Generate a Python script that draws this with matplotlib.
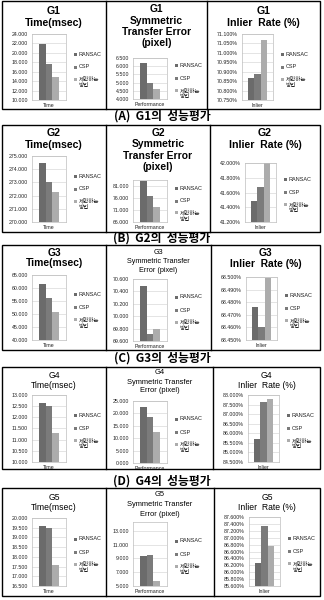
import numpy as np
import matplotlib
matplotlib.use('Agg')
import matplotlib.pyplot as plt
from matplotlib.patches import Rectangle
from matplotlib.lines import Line2D

plt.rcParams['font.family'] = ['Liberation Sans', 'Noto Sans CJK KR']

W, H = 324, 600

# 데이터
methods = ['RANSAC', 'CSP', '제안하는\n방법']
colors = ['#6b6b6b', '#7b7b7b', '#acacac']
groups = ['G1', 'G2', 'G3', 'G4', 'G5']
captions = ['(A)  G1의  성능평가', '(B)  G2의  성능평가', '(C)  G3의  성능평가', '(D)  G4의  성능평가']
cat_labels = ['Time', 'Performance', 'Inlier']

time_vals = [[21.9, 17.6, 14.8], [274.45, 273.0, 272.25], [61.5, 56.0, 50.6],
             [12.65, 12.49, 11.3], [19.57, 19.48, 17.58]]
ste_vals = [[6.2, 5.0, 4.6], [83.0, 77.0, 72.3], [70.48, 69.71, 69.80],
            [22.4, 18.6, 12.4], [9.4, 9.5, 5.7]]
inlier_vals = [[70.868, 70.889, 71.07], [41.48, 41.68, 42.0], [68.476, 68.460, 68.499],
               [85.72, 87.64, 87.78], [86.27, 87.34, 86.76]]

# (low, high, step) of tick labels, then top of axis
time_ticks = [(10, 24, 2), (270, 275, 1), (40, 65, 5), (10, 13, 0.5), (16.5, 20, 0.5)]
ste_ticks = [(4, 6.5, 0.5), (66, 81, 5), (69.6, 70.6, 0.2), (0, 25, 5), (5, 13, 2)]
ste_top = [6.5, 83.5, 70.6, 25, 14.3]
inlier_ticks = [(70.75, 71.10, 0.05), (41.2, 42.0, 0.2), (68.45, 68.50, 0.01),
                (84.5, 88.0, 0.5), (85.6, 87.6, 0.2)]

# layout in pixels
row_top = [1, 125, 245, 367, 488]
row_bot = [109, 232, 350, 469, 596]
div1 = 106
div2 = [207, 210, 211, 213, 214]
left_x, right_x = 2, 320
caption_y = [116, 238, 358, 481]
ax_y = [[(33, 99), (57, 98), (33, 99)],
        [(31, 97), (55, 97), (38, 97)],
        [(30, 95), (34, 96), (32, 95)],
        [(28, 95), (34, 96), (28, 95)],
        [(30, 98), (34, 98), (29, 98)]]

# title: (first line y, line step, size, bold)
title_fmt = [[(10, 12, 7.6, True), (8, 11.5, 7.4, True), (10, 12, 7.6, True)],
             [(8, 12, 7.6, True), (8, 11.3, 7.4, True), (8, 12, 7.6, True)],
             [(8, 10.5, 7.4, True), (8, 8.5, 5.2, False), (8, 11, 7.4, True)],
             [(8, 10, 6.2, False), (6, 9, 5.4, False), (9, 10, 6.2, False)],
             [(9, 11, 6.2, False), (7, 10, 5.4, False), (10, 10, 6.2, False)]]


def fx(x):
    return x / W


def fy(y):
    return 1 - y / H


fig = plt.figure(figsize=(W / 100, H / 100), dpi=100)
fig.patch.set_facecolor('white')


def ticklist(t):
    lo, hi, st = t
    n = int(round((hi - lo) / st)) + 1
    return np.linspace(lo, hi, n)


def legend_at(lx, cy):
    # 범례: 작은 사각형 + 글자
    ys = [cy - 13, cy, cy + 12]
    for name, col, yy in zip(methods, colors, ys):
        fig.add_artist(Rectangle((fx(lx), fy(yy + 1.5)), 3 / W, 3 / H,
                                 transform=fig.transFigure, color=col, linewidth=0))
        for k, part in enumerate(name.split('\n')):
            fig.text(fx(lx + 4.5), fy(yy + k * 6.5), part, ha='left', va='center',
                     fontsize=4.0, color='#222222',
                     family=['Liberation Sans', 'Noto Sans CJK KR'])


def panel(r, c, x0, x1, vals, ticks, top, fmt, title_lines):
    ty0, ty1 = ax_y[r][c]
    y0 = row_top[r] + ty0
    y1 = row_top[r] + ty1
    offs = [30, 27, 35][c]
    aw = 34 if c < 2 else 31
    axl = x0 + offs
    ax = fig.add_axes([fx(axl), fy(y1), aw / W, (y1 - y0) / H])
    ax.bar([-0.2, 0, 0.2], vals, width=0.2, color=colors, linewidth=0)
    tk = ticklist(ticks)
    ax.set_ylim(tk[0], top)
    ax.set_yticks(tk)
    ax.set_yticklabels([fmt.format(v) for v in tk])
    ax.set_xlim(-0.5, 0.5)
    ax.set_xticks([0])
    ax.set_xticklabels([cat_labels[c]])
    ax.tick_params(length=0, labelsize=3.8, pad=3, colors='#222222')
    ax.tick_params(axis='x', pad=2)
    ax.grid(axis='y', color='#cfcfcf', linewidth=0.4)
    ax.set_axisbelow(True)
    for s in ax.spines.values():
        s.set_color('#bdbdbd')
        s.set_linewidth(0.5)
    legend_at(axl + aw + 8, (y0 + y1) / 2)
    # title
    ly, step, size, bold = title_fmt[r][c]
    cx = (x0 + x1) / 2
    for i, line in enumerate(title_lines):
        fig.text(fx(cx), fy(row_top[r] + ly + i * step), line, ha='center', va='center',
                 fontsize=size, fontweight='bold' if bold else 'normal')


for r, g in enumerate(groups):
    # 외곽 상자와 구분선
    fig.add_artist(Rectangle((fx(left_x), fy(row_bot[r])), (right_x - left_x) / W,
                             (row_bot[r] - row_top[r]) / H, transform=fig.transFigure,
                             fill=False, edgecolor='black', linewidth=1.0))
    for dx in [div1, div2[r]]:
        fig.add_artist(Line2D([fx(dx), fx(dx)], [fy(row_top[r]), fy(row_bot[r])],
                              transform=fig.transFigure, color='black', linewidth=1.0))
    if r < 2:
        ste_title = [g, 'Symmetric', 'Transfer Error', '(pixel)']
    else:
        ste_title = [g, 'Symmetric Transfer', 'Error (pixel)']
    panel(r, 0, left_x, div1, time_vals[r], time_ticks[r], time_ticks[r][1], '{:.3f}',
          [g, 'Time(msec)'])
    panel(r, 1, div1, div2[r], ste_vals[r], ste_ticks[r], ste_top[r], '{:.3f}', ste_title)
    panel(r, 2, div2[r], right_x, inlier_vals[r], inlier_ticks[r], inlier_ticks[r][1],
          '{:.3f}%', [g, 'Inlier  Rate (%)'])
    if r < len(captions):
        fig.text(0.5, fy(caption_y[r]), captions[r], ha='center', va='center',
                 fontsize=8.5, fontweight='bold', family=['Noto Sans CJK KR', 'DejaVu Sans'])

fig.savefig('out.png', dpi=100, facecolor='white')
